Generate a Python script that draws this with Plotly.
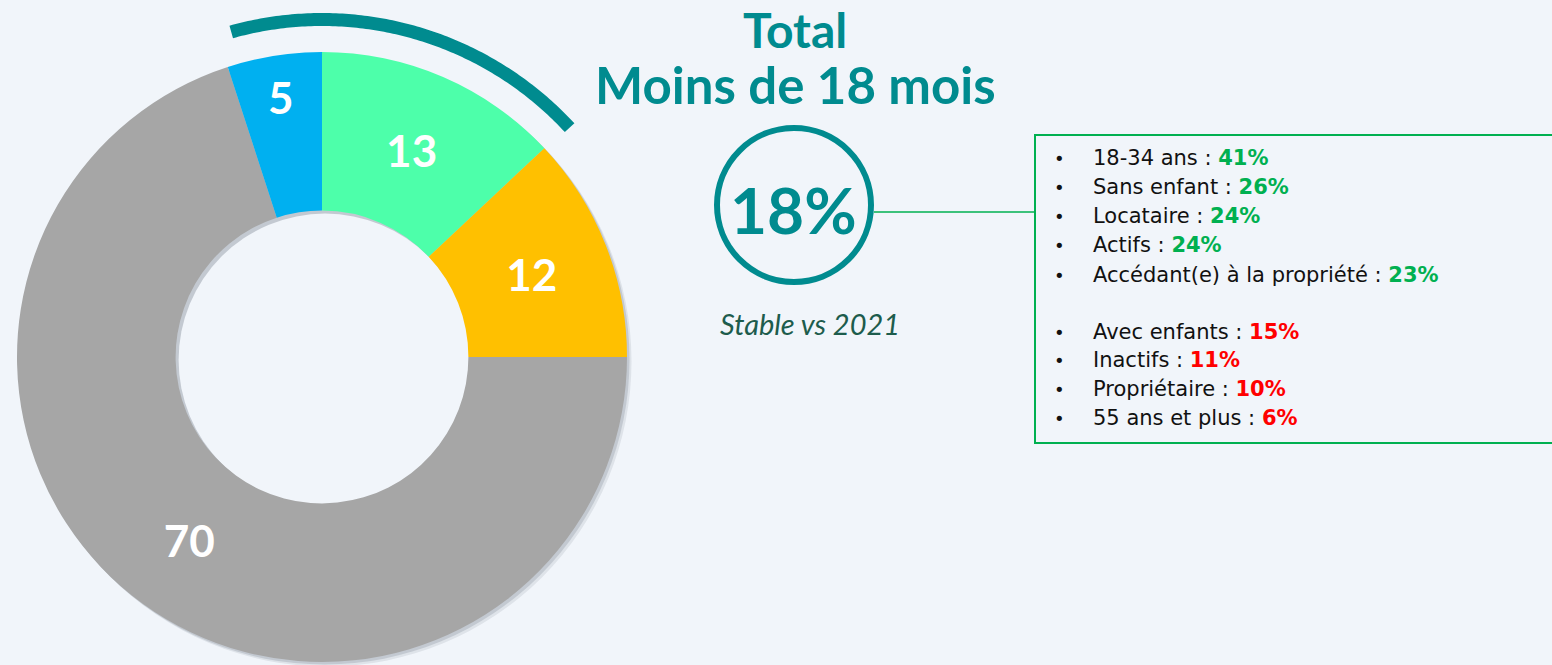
import numpy as np
import plotly.graph_objects as go

# ---------------- data ----------------
slice_labels = ["Segment A", "Segment B", "Segment C", "Segment D"]
slice_values = [13, 12, 70, 5]
slice_colors = ["#4dffaa", "#ffc000", "#a6a6a6", "#00b0f0"]

title_lines = ["Total", "Moins de 18 mois"]
headline_value = "18%"
headline_note = "Stable vs 2021"

over_labels = ["18-34 ans", "Sans enfant", "Locataire", "Actifs", "Accédant(e) à la propriété"]
over_values = ["41%", "26%", "24%", "24%", "23%"]
under_labels = ["Avec enfants", "Inactifs", "Propriétaire", "55 ans et plus"]
under_values = ["15%", "11%", "10%", "6%"]

# ---------------- style ----------------
W, H = 1552, 665
BG = "#f1f5fa"
TEAL = "#008b8f"
GREEN = "#00b050"
RED = "#ff0000"
FONT = "Lato"
BODY_FONT = "DejaVu Sans"

cx, cy, R = 322, 357, 305     # donut centre / radius in px
hole = 0.48
rh = R * hole

fig = go.Figure()

# donut
fig.add_trace(go.Pie(
    labels=slice_labels, values=slice_values,
    marker=dict(colors=slice_colors, line=dict(width=0)),
    sort=False, direction="clockwise", rotation=0, hole=hole,
    textinfo="value", texttemplate="<b>%{value}</b>",
    textposition="inside", insidetextorientation="horizontal",
    textfont=dict(family=FONT, size=44, color="white"),
    domain=dict(x=[(cx - R) / W, (cx + R) / W], y=[(H - cy - R) / H, (H - cy + R) / H]),
    showlegend=False, hoverinfo="label+value",
))

shapes = []
# soft shadow behind donut (ring offset down-right)
for off, alpha in [(4.5, 0.12), (2.5, 0.2)]:
    shapes.append(dict(type="circle", xref="x", yref="y", layer="below",
                       x0=cx - R + off, x1=cx + R + off, y0=cy - R + off, y1=cy + R + off,
                       fillcolor=f"rgba(90,100,115,{alpha})", line=dict(width=0)))
shapes.append(dict(type="circle", xref="x", yref="y", layer="below",
                   x0=cx - rh + 3, x1=cx + rh + 3, y0=cy - rh + 3, y1=cy + rh + 3,
                   fillcolor=BG, line=dict(width=0)))

# teal arc above donut
ra, wa = 337.5, 13
a0, a1 = np.radians(-15.6), np.radians(47.2)
t = np.linspace(a0, a1, 120)
outer = [(cx + (ra + wa / 2) * np.sin(a), cy - (ra + wa / 2) * np.cos(a)) for a in t]
inner = [(cx + (ra - wa / 2) * np.sin(a), cy - (ra - wa / 2) * np.cos(a)) for a in t[::-1]]
pts = outer + inner
path = "M " + " L ".join(f"{x:.2f},{y:.2f}" for x, y in pts) + " Z"
shapes.append(dict(type="path", xref="x", yref="y", path=path,
                   fillcolor=TEAL, line=dict(width=0)))

# circle around headline
ccx, ccy, cr = 794, 205, 77
shapes.append(dict(type="circle", xref="x", yref="y", x0=ccx - cr, x1=ccx + cr,
                   y0=ccy - cr, y1=ccy + cr, line=dict(color=TEAL, width=6)))

# connector + box
bx0, by0, by1 = 1035, 135, 443
shapes.append(dict(type="line", xref="x", yref="y", x0=ccx + cr + 3, x1=bx0, y0=212, y1=212,
                   line=dict(color=GREEN, width=1.5)))
shapes.append(dict(type="rect", xref="x", yref="y", x0=bx0, x1=W + 5, y0=by0, y1=by1,
                   line=dict(color=GREEN, width=2), fillcolor="rgba(0,0,0,0)"))

annotations = []
# title
annotations.append(dict(x=795, y=0, xref="x", yref="y", text=f"<b>{title_lines[0]}</b>",
                        showarrow=False, font=dict(family=FONT, size=48, color=TEAL),
                        xanchor="center", yanchor="top", borderpad=0))
annotations.append(dict(x=795, y=84, xref="x", yref="y", text=f"<b>{title_lines[1]}</b>",
                        showarrow=False, font=dict(family=FONT, size=51, color=TEAL),
                        xanchor="center", yanchor="middle"))
# headline
annotations.append(dict(x=ccx - 1, y=209, xref="x", yref="y", text=f"<b>{headline_value}</b>",
                        showarrow=False, font=dict(family=FONT, size=64, color=TEAL),
                        xanchor="center", yanchor="middle"))
annotations.append(dict(x=810, y=323, xref="x", yref="y", text=f"<i>{headline_note}</i>",
                        showarrow=False, font=dict(family=FONT, size=29, color="#1d5c4c"),
                        xanchor="center", yanchor="middle"))

# bullet list
ys_over = [158, 187, 216, 245, 275]
ys_under = [332, 360, 389, 418]
rows = ([(l, v, GREEN, y) for l, v, y in zip(over_labels, over_values, ys_over)] +
        [(l, v, RED, y) for l, v, y in zip(under_labels, under_values, ys_under)])
for lab, val, col, y in rows:
    annotations.append(dict(x=1059, y=y, xref="x", yref="y", text="•", showarrow=False,
                            font=dict(family=BODY_FONT, size=18, color="#111111"),
                            xanchor="center", yanchor="middle"))
    annotations.append(dict(x=1091, y=y, xref="x", yref="y",
                            text=f"{lab} : <b><span style='color:{col}'>{val}</span></b>",
                            showarrow=False, font=dict(family=BODY_FONT, size=21, color="#111111"),
                            xanchor="left", yanchor="middle"))

fig.update_layout(
    width=W, height=H, margin=dict(l=0, r=0, t=0, b=0),
    paper_bgcolor=BG, plot_bgcolor=BG,
    xaxis=dict(range=[0, W], visible=False, domain=[0, 1], fixedrange=True),
    yaxis=dict(range=[H, 0], visible=False, domain=[0, 1], fixedrange=True),
    shapes=shapes, annotations=annotations,
)

fig.write_html("out.html", config={"displayModeBar": False},
               post_script="document.body.style.margin='0';document.body.style.overflow='hidden';")
